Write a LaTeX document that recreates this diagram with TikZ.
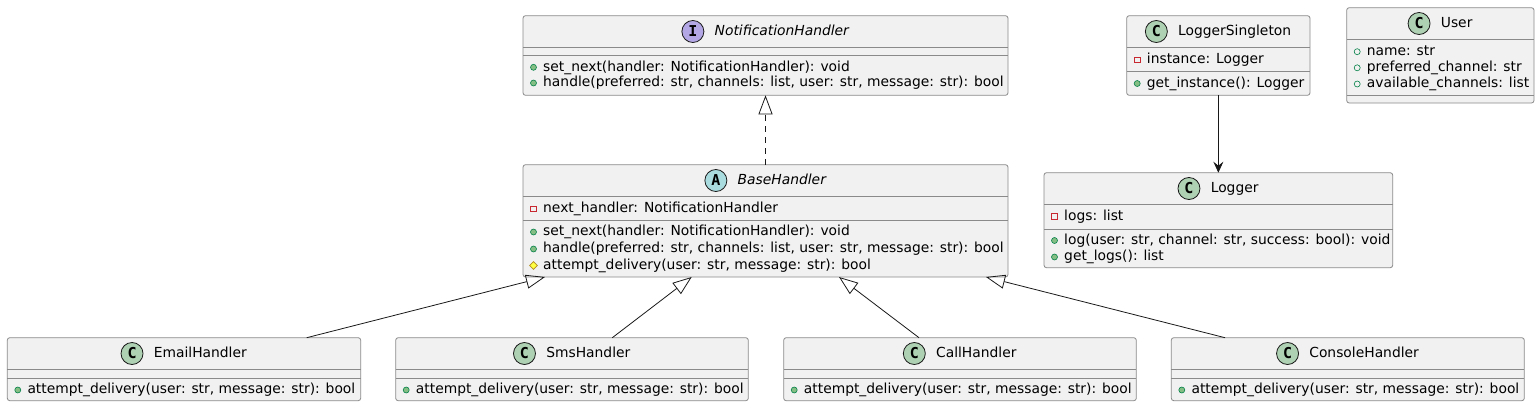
\documentclass[tikz,border=0pt]{standalone}
\usepackage{fontspec}
\setmainfont{DejaVu Sans}
\newfontfamily\iconfont{DejaVu Sans Mono}
\usetikzlibrary{arrows.meta,shapes.geometric,calc}
\definecolor{boxfill}{HTML}{F1F1F1}
\definecolor{boxline}{HTML}{181818}
\definecolor{boxedge}{HTML}{8A8A8A}
\definecolor{cfill}{HTML}{ADD1B2}
\definecolor{ifill}{HTML}{B4A7E5}
\definecolor{afill}{HTML}{A9DCDF}
\definecolor{pubfill}{HTML}{84BE84}
\definecolor{publine}{HTML}{038048}
\definecolor{privline}{HTML}{C82930}
\definecolor{protfill}{HTML}{FFFF44}
\definecolor{protline}{HTML}{B38D22}
\tikzset{
  clsbox/.style={draw=boxedge, line width=0.8pt, fill=boxfill, rounded corners=2.5pt, inner sep=0pt, outer sep=0pt},
  sepline/.style={draw=boxedge, line width=0.8pt},
  hdr/.style={inner sep=0pt, text height=10.5pt, text depth=3pt, font=\fontsize{13.85}{16}\selectfont},
  memtext/.style={anchor=west, inner sep=0pt, text height=10.5pt, text depth=3pt, font=\fontsize{13.85}{16}\selectfont},
  icon/.style={circle, minimum size=22pt, inner sep=0pt, draw=boxline, line width=0.8pt, font={\iconfont\bfseries\fontsize{15}{15}\selectfont}},
  vispub/.style={circle, minimum size=6pt, inner sep=0pt, fill=pubfill, draw=publine, line width=0.6pt},
  vispubf/.style={circle, minimum size=6pt, inner sep=0pt, draw=publine, line width=0.6pt},
  vispriv/.style={rectangle, minimum size=5.5pt, inner sep=0pt, draw=privline, line width=0.8pt},
  visprot/.style={diamond, minimum size=8pt, inner sep=0pt, fill=protfill, draw=protline, line width=0.6pt},
  inh/.style={draw=boxline, line width=0.8pt, -{Triangle[open, length=19pt, width=14pt]}},
  real/.style={inh, dash pattern=on 6pt off 5pt},
  assoc/.style={draw=boxline, line width=0.8pt, -{Stealth[length=11pt, width=10pt, inset=4pt]}}
}
\newcommand{\clsbox}[7]{%
  \node[clsbox, anchor=north west, minimum width={(#4)-(#2)}, minimum height={(#5)-(#3)}] (#1) at (#2,#3) {};
  \draw[sepline] ([yshift=-#6pt]#1.north west) -- ([yshift=-#6pt]#1.north east);
  \draw[sepline] ([yshift=-#7pt]#1.north west) -- ([yshift=-#7pt]#1.north east);
}
\newcommand{\clshdr}[4]{%
  \node[hdr] (#1-h) at ([yshift=-15.8pt]#1.north) {\hspace*{32.6pt}#4};
  \node[icon, fill=#2] (#1-i) at ([xshift=11pt]#1-h.west) {#3};
}
\newcommand{\clsmem}[5]{%
  \node[#4] (#1-v) at (#2+10.5,#3) {};
  \node[memtext] (#1) at (#2+20,#3) {#5};
}
\begin{document}
\begin{tikzpicture}[x=1pt,y=-1pt]
\useasboundingbox (0,0) rectangle (1540,407);
% NotificationHandler
\clsbox{notif}{523}{15.7}{1008}{95.3}{31.6}{39.6}
\clshdr{notif}{ifill}{I}{\itshape NotificationHandler}
\clsmem{notif-m1}{523}{67.3}{vispub}{set\_next(handler: NotificationHandler): void}
\clsmem{notif-m2}{523}{83}{vispub}{handle(preferred: str, channels: list, user: str, message: str): bool}
% BaseHandler
\clsbox{base}{523}{164.7}{1008}{277}{31.6}{56}
\clshdr{base}{afill}{A}{\itshape BaseHandler}
\clsmem{base-a1}{523}{209}{vispriv}{next\_handler: NotificationHandler}
\clsmem{base-m1}{523}{232}{vispub}{set\_next(handler: NotificationHandler): void}
\clsmem{base-m2}{523}{249}{vispub}{handle(preferred: str, channels: list, user: str, message: str): bool}
\clsmem{base-m3}{523}{265.5}{visprot}{attempt\_delivery(user: str, message: str): bool}
% LoggerSingleton
\clsbox{lsing}{1126.7}{15.7}{1310}{95.3}{31.6}{56}
\clshdr{lsing}{cfill}{C}{LoggerSingleton}
\clsmem{lsing-a1}{1126.7}{60}{vispriv}{instance: Logger}
\clsmem{lsing-m1}{1126.7}{83.5}{vispub}{get\_instance(): Logger}
% User
\clsbox{user}{1346.7}{7.7}{1534}{103}{31.6}{88}
\clshdr{user}{cfill}{C}{User}
\clsmem{user-a1}{1346.7}{51.7}{vispubf}{name: str}
\clsmem{user-a2}{1346.7}{67.8}{vispubf}{preferred\_channel: str}
\clsmem{user-a3}{1346.7}{84}{vispubf}{available\_channels: list}
% Logger
\clsbox{logger}{1044}{172.7}{1392.7}{267.7}{31.6}{56.6}
\clshdr{logger}{cfill}{C}{Logger}
\clsmem{logger-a1}{1044}{216.6}{vispriv}{logs: list}
\clsmem{logger-m1}{1044}{240.5}{vispub}{log(user: str, channel: str, success: bool): void}
\clsmem{logger-m2}{1044}{257}{vispub}{get\_logs(): list}
% Handlers
\clsbox{email}{7.3}{337.7}{360.7}{400.7}{31.6}{40.6}
\clshdr{email}{cfill}{C}{EmailHandler}
\clsmem{email-m1}{7.3}{390}{vispub}{attempt\_delivery(user: str, message: str): bool}
\clsbox{sms}{395.7}{337.7}{748.3}{400.7}{31.6}{40.6}
\clshdr{sms}{cfill}{C}{SmsHandler}
\clsmem{sms-m1}{395.7}{390}{vispub}{attempt\_delivery(user: str, message: str): bool}
\clsbox{call}{783.7}{337.7}{1136.3}{400.7}{31.6}{40.6}
\clshdr{call}{cfill}{C}{CallHandler}
\clsmem{call-m1}{783.7}{390}{vispub}{attempt\_delivery(user: str, message: str): bool}
\clsbox{console}{1171.3}{337.7}{1524.3}{400.7}{31.6}{40.6}
\clshdr{console}{cfill}{C}{ConsoleHandler}
\clsmem{console-m1}{1171.3}{390}{vispub}{attempt\_delivery(user: str, message: str): bool}
% Connectors
\draw[real] (base.north) -- (notif.south);
\draw[assoc] (lsing.south) -- (logger.north);
\draw[inh] ([xshift=122.7pt]email.north) -- ([xshift=-220.5pt]base.south);
\draw[inh] ([xshift=40.3pt]sms.north) -- ([xshift=-73.8pt]base.south);
\draw[inh] ([xshift=-41pt]call.north) -- ([xshift=73.5pt]base.south);
\draw[inh] ([xshift=-122.8pt]console.north) -- ([xshift=220.5pt]base.south);
\end{tikzpicture}
\end{document}
